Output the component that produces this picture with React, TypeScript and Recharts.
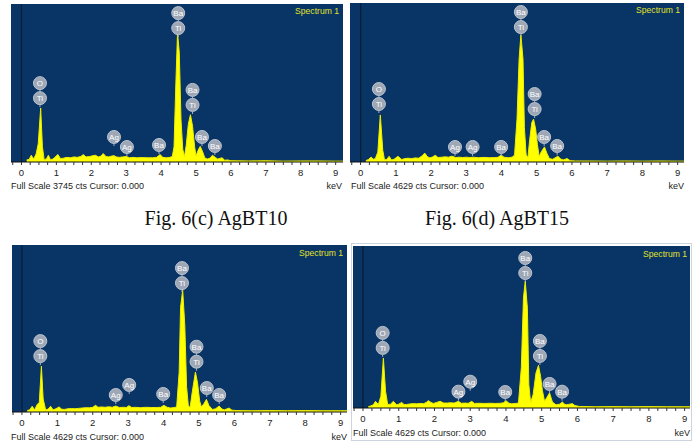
import React from 'react';
import { AreaChart, Area, XAxis, YAxis, CartesianGrid, ReferenceLine, ReferenceDot } from 'recharts';

// ---------- shared ----------
const BLUE = '#083466';
const SPEC_FILL = '#ffff00';
const SPEC_STROKE = '#eeee00';
const TICKS = [-0.25, 0, 0.25, 0.5, 0.75, 1, 1.25, 1.5, 1.75, 2, 2.25, 2.5, 2.75, 3, 3.25, 3.5, 3.75, 4, 4.25, 4.5, 4.75, 5, 5.25, 5.5, 5.75, 6, 6.25, 6.5, 6.75, 7, 7.25, 7.5, 7.75, 8, 8.25, 8.5, 8.75, 9];
const CAPTIONS = ['Fig. 6(c) AgBT10', 'Fig. 6(d) AgBT15'];

// ---------- panel A (top-left) ----------
const A_FULL_SCALE = 3745;
const A_E = [0.15, 0.22, 0.28, 0.35, 0.42, 0.48, 0.55, 0.6, 0.65, 0.72, 0.77, 0.83, 0.9, 0.97, 1.04, 1.12, 1.2, 1.3, 1.4, 1.5, 1.6, 1.7, 1.77, 1.85, 1.95, 2.05, 2.12, 2.2, 2.28, 2.34, 2.42, 2.5, 2.58, 2.65, 2.72, 2.8, 2.9, 3.0, 3.1, 3.2, 3.3, 3.45, 3.6, 3.75, 3.87, 3.97, 4.05, 4.15, 4.25, 4.32, 4.37, 4.42, 4.47, 4.52, 4.57, 4.62, 4.67, 4.72, 4.78, 4.84, 4.9, 4.96, 5.0, 5.06, 5.12, 5.19, 5.25, 5.32, 5.4, 5.47, 5.55, 5.62, 5.7, 5.75, 5.82, 5.9, 6.0, 6.5, 7.0, 7.5, 8.0, 8.5, 9.0, 9.25];
const A_C = [50, 60, 160, 70, 190, 430, 1280, 360, 50, 80, 160, 55, 70, 120, 180, 80, 90, 110, 100, 120, 110, 130, 175, 120, 130, 150, 160, 120, 140, 200, 130, 120, 140, 150, 120, 110, 120, 130, 100, 110, 100, 105, 100, 100, 110, 175, 110, 100, 110, 130, 360, 1800, 3060, 2600, 1000, 300, 130, 400, 900, 1120, 850, 360, 140, 280, 370, 240, 100, 70, 90, 160, 110, 70, 90, 100, 40, 50, 30, 25, 30, 20, 25, 25, 20, 20];
const A_LABEL_E = [0.53, 2.65, 3.02, 3.94, 4.49, 4.9, 5.17, 5.54];
const A_LABEL_C = [1300, 380, 142, 190, 2960, 1140, 380, 166];
const A_LABEL_T = [['O', 'Ti'], ['Ag'], ['Ag'], ['Ba'], ['Ba', 'Ti'], ['Ba', 'Ti'], ['Ba'], ['Ba']];

// ---------- panel B (top-right) ----------
const B_FULL_SCALE = 4629;
const B_E = [0.15, 0.22, 0.3, 0.36, 0.42, 0.49, 0.56, 0.63, 0.68, 0.75, 0.81, 0.88, 0.95, 1.06, 1.17, 1.25, 1.35, 1.45, 1.55, 1.65, 1.75, 1.82, 1.9, 1.97, 2.05, 2.12, 2.2, 2.3, 2.4, 2.5, 2.59, 2.7, 2.8, 2.9, 3.0, 3.1, 3.2, 3.35, 3.5, 3.65, 3.8, 3.9, 3.99, 4.07, 4.2, 4.3, 4.37, 4.44, 4.5, 4.55, 4.61, 4.65, 4.7, 4.75, 4.8, 4.86, 4.91, 4.97, 5.02, 5.07, 5.13, 5.22, 5.29, 5.36, 5.45, 5.52, 5.6, 5.68, 5.75, 5.86, 5.95, 6.1, 6.5, 7.0, 7.5, 8.0, 8.5, 9.0, 9.25];
const B_C = [40, 70, 145, 80, 100, 290, 1370, 340, 60, 80, 165, 60, 80, 165, 70, 100, 110, 100, 120, 110, 180, 260, 150, 120, 150, 195, 130, 140, 150, 140, 170, 130, 140, 130, 140, 130, 140, 125, 135, 125, 130, 135, 205, 140, 125, 140, 200, 1250, 3000, 3700, 3000, 1000, 200, 140, 650, 1150, 1250, 950, 500, 160, 300, 440, 250, 100, 80, 120, 170, 90, 60, 100, 40, 30, 30, 25, 30, 25, 30, 25, 25];
const B_LABEL_E = [0.52, 2.68, 3.18, 3.99, 4.55, 4.94, 5.21, 5.58];
const B_LABEL_C = [1426, 175, 175, 175, 3667, 1280, 466, 204];
const B_LABEL_T = [['O', 'Ti'], ['Ag'], ['Ag'], ['Ba'], ['Ba', 'Ti'], ['Ba', 'Ti'], ['Ba'], ['Ba']];

// ---------- panel C (bottom-left) ----------
const C_FULL_SCALE = 4629;
const C_E = [0.15, 0.22, 0.29, 0.36, 0.43, 0.49, 0.55, 0.6, 0.67, 0.74, 0.81, 0.88, 0.96, 1.05, 1.12, 1.19, 1.3, 1.4, 1.5, 1.6, 1.7, 1.8, 1.9, 2.0, 2.08, 2.15, 2.25, 2.35, 2.45, 2.55, 2.65, 2.75, 2.85, 2.95, 3.02, 3.1, 3.2, 3.35, 3.5, 3.65, 3.8, 3.92, 4.01, 4.1, 4.2, 4.3, 4.37, 4.44, 4.48, 4.54, 4.6, 4.65, 4.7, 4.75, 4.81, 4.9, 4.96, 5.02, 5.07, 5.14, 5.21, 5.28, 5.38, 5.47, 5.57, 5.65, 5.72, 5.85, 5.93, 6.05, 6.5, 7.0, 7.5, 8.0, 8.5, 9.0, 9.25];
const C_C = [40, 60, 160, 60, 210, 260, 1270, 360, 60, 80, 160, 60, 90, 140, 80, 70, 90, 95, 90, 100, 110, 120, 115, 130, 185, 130, 140, 130, 145, 130, 165, 125, 130, 125, 175, 125, 130, 120, 130, 125, 125, 130, 185, 130, 110, 125, 140, 1100, 2900, 3380, 2400, 700, 170, 130, 550, 1110, 800, 300, 140, 230, 350, 180, 70, 90, 165, 80, 60, 110, 50, 40, 35, 40, 35, 40, 35, 35, 35];
const C_LABEL_E = [0.52, 2.65, 3.03, 3.99, 4.52, 4.93, 5.22, 5.57];
const C_LABEL_C = [1300, 222, 500, 250, 3324, 1144, 415, 222];
const C_LABEL_T = [['O', 'Ti'], ['Ag'], ['Ag'], ['Ba'], ['Ba', 'Ti'], ['Ba', 'Ti'], ['Ba'], ['Ba']];

// ---------- panel D (bottom-right) ----------
const D_FULL_SCALE = 4629;
const D_E = [0.15, 0.22, 0.29, 0.35, 0.43, 0.5, 0.57, 0.63, 0.69, 0.77, 0.85, 0.94, 1.0, 1.08, 1.15, 1.22, 1.3, 1.4, 1.5, 1.6, 1.7, 1.77, 1.83, 1.9, 1.97, 2.06, 2.16, 2.25, 2.35, 2.45, 2.55, 2.67, 2.75, 2.85, 2.95, 3.04, 3.12, 3.25, 3.4, 3.55, 3.7, 3.85, 3.93, 4.0, 4.08, 4.16, 4.28, 4.35, 4.43, 4.49, 4.54, 4.6, 4.64, 4.69, 4.76, 4.84, 4.91, 4.97, 5.02, 5.08, 5.14, 5.22, 5.3, 5.4, 5.5, 5.58, 5.65, 5.7, 5.78, 5.86, 5.93, 6.05, 6.5, 7.0, 7.5, 8.0, 8.5, 9.0, 9.2];
const D_C = [40, 60, 95, 190, 100, 335, 1430, 480, 100, 110, 190, 90, 110, 160, 100, 100, 115, 125, 120, 130, 125, 160, 210, 160, 130, 160, 190, 145, 140, 150, 140, 190, 135, 140, 135, 190, 130, 135, 130, 135, 130, 135, 150, 210, 140, 120, 130, 145, 1150, 3150, 3620, 2850, 670, 160, 380, 1000, 1220, 900, 500, 190, 290, 430, 170, 90, 110, 170, 100, 95, 110, 125, 70, 45, 35, 40, 35, 40, 35, 35, 35];
const D_LABEL_E = [0.55, 2.67, 3.0, 3.98, 4.54, 4.95, 5.22, 5.57];
const D_LABEL_C = [1460, 210, 495, 200, 3600, 1230, 430, 210];
const D_LABEL_T = [['O', 'Ti'], ['Ag'], ['Ag'], ['Ba'], ['Ba', 'Ti'], ['Ba', 'Ti'], ['Ba'], ['Ba']];

const SANS = '"Liberation Sans", Arial, sans-serif';

const LabelStack = (props: any) => {
  const { cx, cy, labels } = props;
  if (cx == null || cy == null) return <g />;
  const n = labels.length;
  const items = [];
  for (let i = 0; i < n; i++) {
    const k = n - 1 - i; // 0 = bottom
    const ccy = cy - 9 - k * 15;
    items.push(
      <g key={i}>
        <circle cx={cx} cy={ccy} r={6.5} fill="#9ea7b6" stroke="#bcc4cf" strokeWidth={1} />
        <text x={cx} y={ccy} dy={3} textAnchor="middle" fontSize={8} fill="#ffffff" fontFamily={SANS}>{labels[i]}</text>
      </g>
    );
  }
  return (
    <g>
      <line x1={cx} y1={cy} x2={cx} y2={cy - 2.5} stroke="#aab2c0" strokeWidth={1} />
      {n > 1 && <line x1={cx} y1={cy - 9 - 6.5} x2={cx} y2={cy - 24 + 6.5} stroke="#aab2c0" strokeWidth={1} />}
      {items}
    </g>
  );
};

const renderTick = (props: any) => {
  const { x, y, payload } = props;
  const v = payload.value;
  if (Math.abs(v - Math.round(v)) > 1e-6 || v < 0) {
    if (Math.abs(v) > 1e-6) return <g />;
  }
  return (
    <text x={x} y={y + 6} textAnchor="middle" dominantBaseline="middle" fontSize={9.5} fill="#222" fontFamily={SANS}>{Math.round(v)}</text>
  );
};

const Txt = ({ x, y, size, color, right, children }: any) => (
  <div style={{ position: 'absolute', left: x, top: y, transform: right ? 'translate(-100%, -50%)' : 'translate(0, -50%)', fontSize: size, lineHeight: 1, color, fontFamily: SANS, whiteSpace: 'nowrap' }}>{children}</div>
);

type PanelProps = {
  left: number; top: number; width: number; plotH: number; xMin: number; xMax: number;
  fs: number; energies: number[]; counts: number[]; labE: number[]; labC: number[]; labT: string[][];
};

const Panel = ({ left, top, width, plotH, xMin, xMax, fs, energies, counts, labE, labC, labT }: PanelProps) => {
  const data = energies.map((e, i) => ({ e, c: counts[i] }));
  const axisH = 24;
  return (
    <div style={{ position: 'absolute', left, top }}>
      <AreaChart width={width} height={plotH + axisH} data={data} margin={{ top: 0, right: 0, bottom: 0, left: 0 }}>
        <CartesianGrid fill={BLUE} fillOpacity={1} horizontal={false} vertical={false} stroke="none" />
        <XAxis type="number" dataKey="e" domain={[xMin, xMax]} ticks={TICKS} interval={0} tick={renderTick} tickSize={3} height={axisH} axisLine={{ stroke: '#111' }} tickLine={{ stroke: '#333' }} allowDataOverflow />
        <YAxis hide type="number" domain={[0, fs]} allowDataOverflow />
        <Area type="linear" dataKey="c" stroke={SPEC_STROKE} strokeWidth={1} fill={SPEC_FILL} fillOpacity={1} baseValue={0} isAnimationActive={false} dot={false} activeDot={false} />
        <ReferenceLine x={0} stroke="#0a1c33" strokeWidth={1.2} />
        {labE.map((e, i) => (
          <ReferenceDot key={i} x={e} y={labC[i]} r={0} ifOverflow="visible" shape={(p: any) => <LabelStack cx={p.cx} cy={p.cy} labels={labT[i]} />} />
        ))}
      </AreaChart>
    </div>
  );
};

export default function App() {
  return (
    <div style={{ position: 'absolute', left: 0, top: 0, width: 695, height: 444, background: '#fff', overflow: 'hidden' }}>
      {/* Panel D frame */}
      <div style={{ position: 'absolute', left: 351, top: 243, width: 339, height: 196, border: '1px solid #cdd4dd' }} />

      <Panel left={11} top={4} width={332} plotH={158} xMin={-0.3} xMax={9.21} fs={A_FULL_SCALE} energies={A_E} counts={A_C} labE={A_LABEL_E} labC={A_LABEL_C} labT={A_LABEL_T} />
      <Panel left={350} top={3} width={334} plotH={159} xMin={-0.3} xMax={9.18} fs={B_FULL_SCALE} energies={B_E} counts={B_C} labE={B_LABEL_E} labC={B_LABEL_C} labT={B_LABEL_T} />
      <Panel left={12} top={245} width={335} plotH={167} xMin={-0.28} xMax={9.18} fs={C_FULL_SCALE} energies={C_E} counts={C_C} labE={C_LABEL_E} labC={C_LABEL_C} labT={C_LABEL_T} />
      <Panel left={353} top={246} width={337} plotH={162} xMin={-0.28} xMax={9.15} fs={D_FULL_SCALE} energies={D_E} counts={D_C} labE={D_LABEL_E} labC={D_LABEL_C} labT={D_LABEL_T} />

      <Txt x={339} y={11} size={8.6} color="#e2e22a" right>Spectrum 1</Txt>
      <Txt x={680} y={10} size={8.6} color="#e2e22a" right>Spectrum 1</Txt>
      <Txt x={343} y={253} size={8.6} color="#e2e22a" right>Spectrum 1</Txt>
      <Txt x={687} y={254} size={8.6} color="#e2e22a" right>Spectrum 1</Txt>

      <Txt x={11} y={186} size={9} color="#222">{'Full Scale ' + A_FULL_SCALE + ' cts Cursor: 0.000'}</Txt>
      <Txt x={342} y={186} size={9} color="#222" right>keV</Txt>
      <Txt x={351} y={186} size={9} color="#222">{'Full Scale ' + B_FULL_SCALE + ' cts Cursor: 0.000'}</Txt>
      <Txt x={684} y={186} size={9} color="#222" right>keV</Txt>
      <Txt x={11} y={437} size={9} color="#222">{'Full Scale ' + C_FULL_SCALE + ' cts Cursor: 0.000'}</Txt>
      <Txt x={347} y={437} size={9} color="#222" right>keV</Txt>
      <Txt x={353} y={433} size={9} color="#222">{'Full Scale ' + D_FULL_SCALE + ' cts Cursor: 0.000'}</Txt>
      <Txt x={690} y={433} size={9} color="#222" right>keV</Txt>

      <div style={{ position: 'absolute', left: 116, top: 207, width: 200, textAlign: 'center', fontFamily: '"Liberation Serif", "Times New Roman", serif', fontSize: 20, lineHeight: '22px', color: '#111' }}>{CAPTIONS[0]}</div>
      <div style={{ position: 'absolute', left: 397, top: 207, width: 200, textAlign: 'center', fontFamily: '"Liberation Serif", "Times New Roman", serif', fontSize: 20, lineHeight: '22px', color: '#111' }}>{CAPTIONS[1]}</div>
    </div>
  );
}
